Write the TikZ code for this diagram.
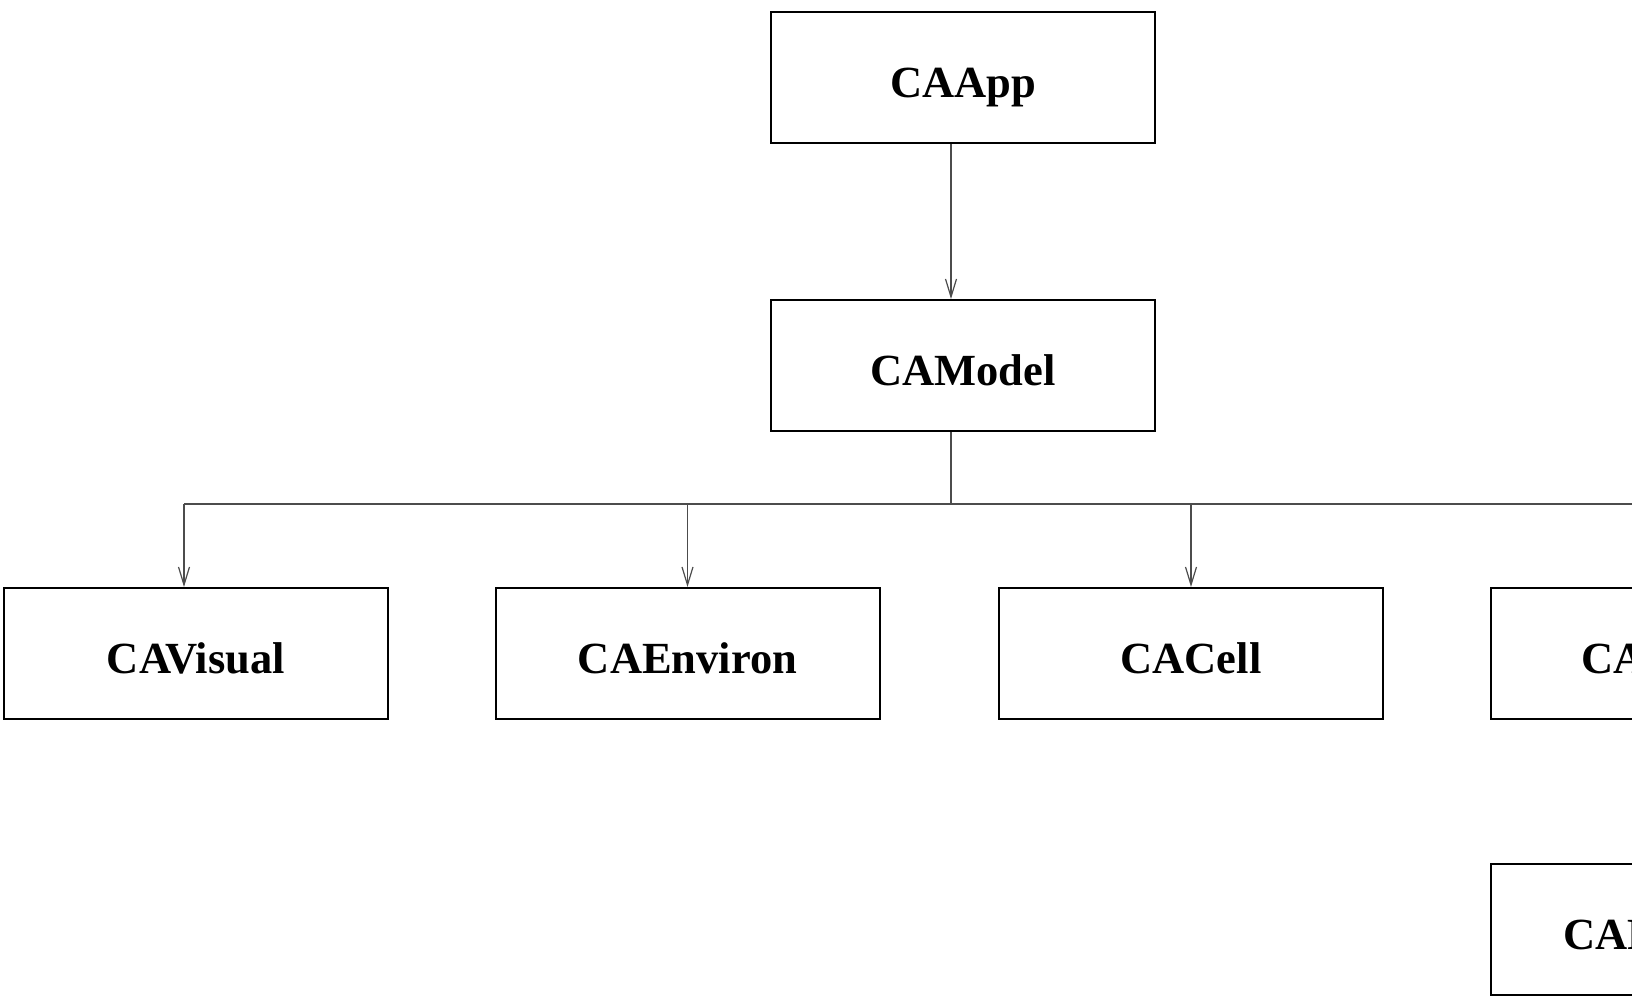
\documentclass[tikz,border=0pt]{standalone}
\usepackage{fontspec}
\setmainfont{Liberation Serif}
\usetikzlibrary{arrows.meta}
\begin{document}
\begin{tikzpicture}[x=1pt,y=-1pt,
  cls/.style={draw=black, line width=2pt, minimum width=384pt, minimum height=131pt,
    inner sep=0pt, text height=40pt, text depth=0pt, font=\fontsize{44.5}{50}\selectfont\bfseries},
  link/.style={draw=black!70, line width=1.3pt},
  arr/.style={link, -{Straight Barb[length=18pt,width=11pt,line width=1.2pt]}}]
\useasboundingbox (0,0) rectangle (1632,1000);
\clip (0,0) rectangle (1632,1000);
\fill[white] (0,0) rectangle (1632,1000);
\node[cls] (app) at (963,78) {CAApp};
\node[cls] (model) at (963,365.5) {CAModel};
\node[cls] (visual) at (196,653.5) {CAVisual};
\node[cls] (environ) at (687.5,653.5) {CAEnviron};
\node[cls] (cell) at (1191,653.5) {CACell};
\node[cls] (fourth) at (1683,653.5) {CASpecies};
\node[cls] (lower) at (1683,929.5) {CAResource};
\coordinate (bus) at (951,504);
\draw[arr] ([xshift=-12pt]app.south) -- ([xshift=-12pt]model.north);
\draw[link] ([xshift=-12pt]model.south) -- (bus);
\draw[link] (bus -| visual.north) ++(-12,0) -- (bus -| fourth.north);
\draw[arr] ([xshift=-12pt]visual.north |- bus) -- ([xshift=-12pt]visual.north);
\draw[arr] (environ.north |- bus) -- (environ.north);
\draw[arr] (cell.north |- bus) -- (cell.north);
\draw[arr] (fourth.north |- bus) -- (fourth.north);
\draw[arr] (fourth.south) -- (lower.north);
\end{tikzpicture}
\end{document}
